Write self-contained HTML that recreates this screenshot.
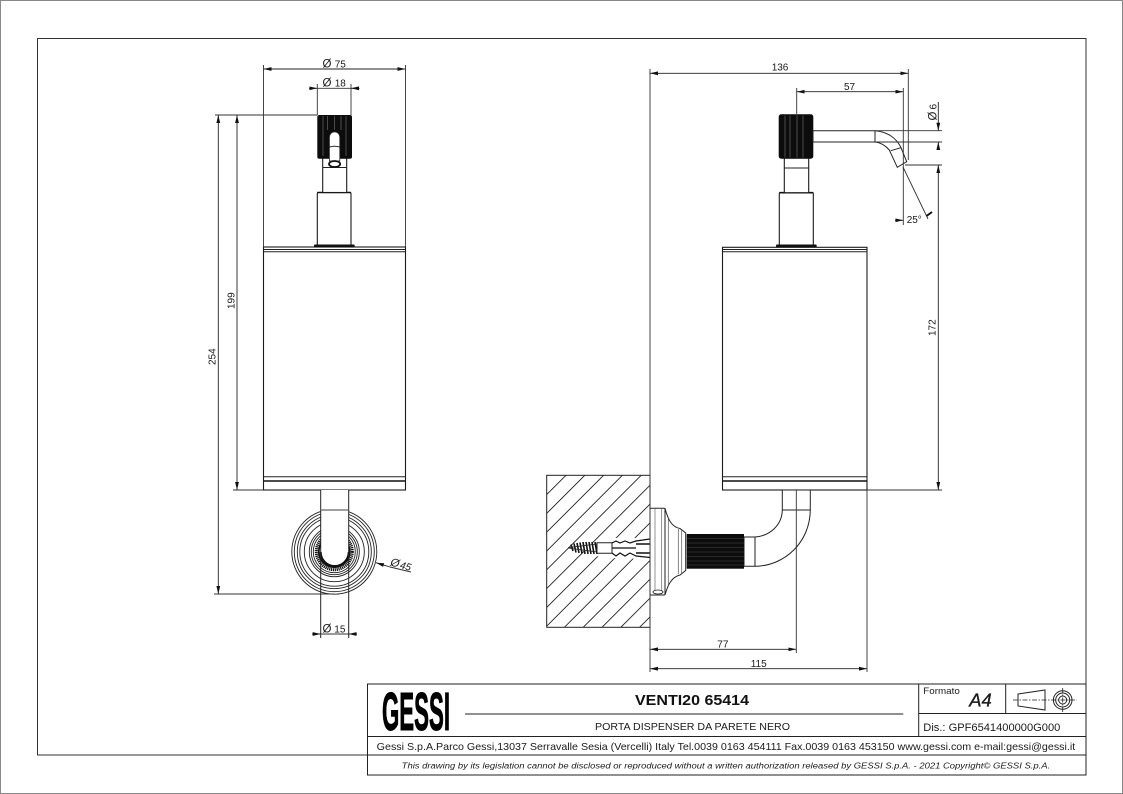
<!DOCTYPE html>
<html><head><meta charset="utf-8"><style>
html,body{margin:0;padding:0;background:#fff;width:1123px;height:794px;overflow:hidden}
svg{display:block}
text{font-family:"Liberation Sans",sans-serif;fill:#1a1a1a}
.d{font-size:10px}
.o{font-size:11.5px}
.l{fill:none;stroke:#222;stroke-width:1}
.e{fill:none;stroke:#333;stroke-width:.9}
.a{fill:none;stroke:#222;stroke-width:.9;marker-start:url(#m);marker-end:url(#m)}
.b{fill:none;stroke:#222;stroke-width:.9;marker-end:url(#m)}
.w{fill:#fff;stroke:#1a1a1a;stroke-width:1.1}
.r{fill:none;stroke:#666;stroke-width:.7}
</style></head><body>
<svg width="1123" height="794" viewBox="0 0 1123 794" xmlns="http://www.w3.org/2000/svg">
<defs>
<marker id="m" markerUnits="userSpaceOnUse" markerWidth="9" markerHeight="5" refX="8" refY="2.5" orient="auto-start-reverse"><path d="M0 .6L8 2.5L0 4.4z" fill="#111"/></marker>
<clipPath id="c"><rect x="546.7" y="475.3" width="103.3" height="152"/></clipPath>
</defs>
<rect x=".5" y=".5" width="1122" height="793" fill="none" stroke="#888" stroke-width="1"/>
<path d="M367.5 755H37.5V38.5H1086V684" fill="none" stroke="#333" stroke-width="1"/>

<!-- LEFT VIEW -->
<rect x="263.5" y="247" width="142" height="243" class="w"/>
<path d="M263.5 251.7H405.5M263.5 249.5H405.5M263.5 476.7H405.5" class="l" stroke-width=".7"/>
<path d="M263.5 481H405.5" fill="none" stroke="#111" stroke-width="1.6"/>
<rect x="317.3" y="192.5" width="33.7" height="53" rx="1" class="w"/>
<path d="M317.3 192.5H351" stroke="#111" stroke-width="1.6"/>
<rect x="322.7" y="158" width="24" height="34.5" class="w"/>
<path d="M322.7 167.5H346.7" class="l"/>
<rect x="314" y="244.5" width="40.7" height="3" rx="1" fill="#111"/>
<rect x="317.3" y="115" width="34.7" height="43.7" rx="2" fill="#0c0c0c"/>
<path d="M323 116V156M327.5 116V130M334.5 116V130M341 116V130M346 116V156" class="r"/>
<path d="M329.4 137a5.2 5.2 0 0 1 10.4 0V161h-10.4z" fill="#fff" stroke="#222" stroke-width=".8"/>
<path d="M329.5 147q5 -1.5 10.2 0" class="l" stroke-width=".7"/>
<ellipse cx="334.6" cy="164" rx="5.6" ry="3" fill="#fff" stroke="#111" stroke-width="1.8"/>

<!-- rings -->
<g fill="none" stroke="#222" stroke-width=".9">
<circle cx="334.3" cy="551.7" r="42.5"/><circle cx="334.3" cy="551.7" r="40"/><circle cx="334.3" cy="551.7" r="37"/><circle cx="334.3" cy="551.7" r="34.5"/><circle cx="334.3" cy="551.7" r="30"/>
<circle cx="334.3" cy="551.7" r="25"/><circle cx="334.3" cy="551.7" r="23"/><circle cx="334.3" cy="551.7" r="21"/>
</g>
<circle cx="334.3" cy="551.7" r="18" fill="none" stroke="#111" stroke-width="3" stroke-dasharray="1.2 .7"/>
<circle cx="334.3" cy="551.7" r="15.5" fill="#fff" stroke="#111" stroke-width="1.8"/>
<path d="M320.7 490V552a13.7 13.7 0 0 0 28 0V490z" fill="#fff" stroke="none"/>
<path d="M320.7 552a13.7 13.7 0 0 0 28 0" fill="none" stroke="#111" stroke-width="2"/>
<path d="M320.7 490V638M348.7 490V638" class="l"/>
<path d="M320.7 510H348.7" fill="none" stroke="#666" stroke-width="1.2"/>

<!-- left dims -->
<path d="M263.5 65V247M405.5 65V247M317.3 84V115M351 84V115" class="e"/>
<path d="M263.5 69H405.5" class="a"/>
<path d="M309 88.3H317.3" class="b"/><path d="M359.5 88.3H351" class="b"/><path d="M317.3 88.3H351" class="e"/>
<path d="M215 115H317.3M233 490H263.5M214 594H334" class="e"/>
<path d="M218.3 115V594" class="a"/><path d="M237 115V490" class="a"/>
<path d="M312 634H320.7" class="b"/><path d="M357 634H348.7" class="b"/><path d="M320.7 634H348.7" class="e"/>
<path d="M411 572L390 567" class="e"/><path d="M390 567L376 562.7" class="b"/>
<text x="322.5" y="67.7" class="o">Ø</text><text x="334.7" y="67.7" class="d">75</text>
<text x="322.5" y="86.7" class="o">Ø</text><text x="334.7" y="86.7" class="d">18</text>
<text x="322.5" y="632.7" class="o">Ø</text><text x="334.3" y="632.7" class="d">15</text>
<g transform="translate(390.5 562.5) rotate(15)"><text x="0" y="3" class="o" font-style="italic">Ø</text><text x="10" y="3" class="d" font-style="italic">45</text></g>
<text transform="translate(215.5 365) rotate(-90)" class="d">254</text>
<text transform="translate(234.5 309) rotate(-90)" class="d">199</text>

<!-- RIGHT VIEW -->
<rect x="722.5" y="247.3" width="144.5" height="242.7" class="w"/>
<path d="M722.5 251.7H867M722.5 249.5H867M722.5 476.7H867" class="l" stroke-width=".7"/>
<path d="M722.5 481H867" fill="none" stroke="#111" stroke-width="1.6"/>
<rect x="779.3" y="192.7" width="34" height="53" rx="1" class="w"/>
<path d="M779.3 192.7H813.3" stroke="#111" stroke-width="1.6"/>
<rect x="784.3" y="158" width="24.4" height="34.7" class="w"/>
<path d="M784.3 168H808.7" class="l"/>
<rect x="776" y="244.5" width="40.7" height="3" rx="1" fill="#111"/>
<rect x="778.7" y="114.3" width="34.6" height="44.4" rx="2.5" fill="#0c0c0c"/>
<path d="M785 115.5V157.5M790 115.5V157.5M797 115.5V157.5M803 115.5V157.5" class="r"/>
<path d="M813 130.7H875C886 131.5 896 137 901 147.7L906.7 161.7L897.3 167.3L889.3 150C885 145 880 142.5 875 142H813z" fill="#fff" stroke="#222" stroke-width="1"/>
<path d="M875 130.7V142M890.7 150.7L901 147.7" class="l"/>

<!-- bracket -->
<path d="M782.3 490V510C782 525 770 536 755 537H744V566.3H755C785 566 810 542 810.3 510V490z" fill="#fff" stroke="#222" stroke-width="1"/>
<path d="M782.3 510H810.3M755 537V566.3" class="l"/>
<rect x="686.7" y="534" width="57.3" height="34.7" fill="#0c0c0c"/>
<path d="M687 538.5H744M687 543H744M687 547.5H744M687 552H744M687 556.5H744M687 561H744M687 565H744" fill="none" stroke="#444" stroke-width=".6"/>
<path d="M665 508.3C668 520 672 527 680 528.5L685.7 533V570.5L680 575C672 577 668 584 665 595z" fill="#fff" stroke="#222" stroke-width="1"/>
<path d="M668.3 517V586M678.3 529V574M681.7 530V573" fill="none" stroke="#555" stroke-width=".7"/>
<rect x="650" y="508.3" width="15" height="86.7" rx="1" fill="#fff" stroke="#222" stroke-width="1"/>
<path d="M655 508.3V595M661.7 508.3V595" fill="none" stroke="#666" stroke-width=".7"/>
<ellipse cx="658" cy="592" rx="5" ry="2" fill="#fff" stroke="#222" stroke-width=".8"/>

<!-- hatch -->
<g clip-path="url(#c)"><path d="M540 482.5l120-120M540 501.3l120-120M540 520.1l120-120M540 538.9l120-120M540 557.7l120-120M540 576.5l120-120M540 595.3l120-120M540 614.1l120-120M540 632.9l120-120M540 651.7l120-120M540 670.5l120-120M540 689.3l120-120M540 708.1l120-120M540 726.9l120-120" fill="none" stroke="#222" stroke-width=".9"/></g>
<rect x="546.7" y="475.3" width="103.3" height="152" fill="none" stroke="#222" stroke-width="1"/>
<!-- screw + anchor -->
<path d="M595 541L612 538L650 538V559L612 558L595 556z" fill="#fff"/>
<path d="M568 547.7L597 542V554z" fill="#fff"/>
<path d="M571 544.5L573 551M574 543.5L576 552.5M577 543L579 553M580 542.5L582 553.5M583 542L585 554M586 542L588 554M589 542L591 554M592 542L594 554M595 542L597 554" fill="none" stroke="#111" stroke-width="1.6"/>
<path d="M568 547.7L597 544M568 548L597 552" fill="none" stroke="#222" stroke-width=".8"/>
<path d="M597 542.7H612V553.3H597z" fill="#fff" stroke="#222" stroke-width="1"/>
<path d="M612 543L616 541L620 543L625 541L630 543L636 541L650 539M612 553L616 556L620 553L625 556L630 553L636 556L650 557.5M612 548H636" fill="none" stroke="#111" stroke-width="1.2"/>
<path d="M636 544H650M636 553H650" fill="none" stroke="#111" stroke-width="1.6"/>

<!-- right dims -->
<path d="M650 69V672M908.3 69V160M796.7 88V114M903.3 88V225M796.3 490V653M867 490V672" class="e"/>
<path d="M650 73.3H908.3" class="a"/>
<path d="M796.7 91.7H903.3" class="a"/>
<path d="M650 649.3H796.3" class="a"/>
<path d="M650 668.7H867" class="a"/>
<path d="M875 130.7H942M875 142H942M905 165H942M867 490H942" class="e"/>
<path d="M938.3 102V130.7" class="b"/><path d="M938.3 150V142" class="b"/>
<path d="M938.3 165V490" class="a"/>
<path d="M895 220.3H903.3" class="b"/>
<path d="M903 167L928 219" class="e"/>
<path d="M926.5 216L932 212" fill="none" stroke="#111" stroke-width="2"/>
<text x="771.7" y="70.7" class="d">136</text>
<text x="844" y="90" class="d">57</text>
<text x="717.3" y="647.5" class="d">77</text>
<text x="750.7" y="667" class="d">115</text>
<text x="906.7" y="223" class="d">25°</text>
<text transform="translate(936.5 120.5) rotate(-90)" class="o">Ø</text>
<text transform="translate(936.5 109.5) rotate(-90)" class="d">6</text>
<text transform="translate(935.5 336) rotate(-90)" class="d">172</text>

<!-- TITLE BLOCK -->
<rect x="367.5" y="684" width="718.5" height="91" fill="#fff" stroke="#222" stroke-width="1"/>
<path d="M367.5 736.5H1086M367.5 755H1086M918.7 684V736.5M918.7 713.5H1086M1005.7 684V713.5M465 714H903.3" fill="none" stroke="#222" stroke-width="1"/>
<text x="382" y="730" font-size="54" font-weight="700" textLength="68" lengthAdjust="spacingAndGlyphs" style="fill:#000;stroke:#000;stroke-width:1">GESSI</text>
<text x="635" y="705" font-size="14.5" font-weight="700" textLength="114" lengthAdjust="spacingAndGlyphs" style="fill:#111">VENTI20 65414</text>
<text x="595" y="730" font-size="10" textLength="195" lengthAdjust="spacingAndGlyphs">PORTA DISPENSER DA PARETE NERO</text>
<text x="923.3" y="694" font-size="9.5" textLength="36.5" lengthAdjust="spacingAndGlyphs">Formato</text>
<text x="969.3" y="706.7" font-size="18" font-style="italic" textLength="22.5" lengthAdjust="spacingAndGlyphs" style="stroke:#1a1a1a;stroke-width:.3">A4</text>
<text x="923.3" y="731" font-size="11" textLength="137" lengthAdjust="spacingAndGlyphs">Dis.: GPF6541400000G000</text>
<text x="376.7" y="750" font-size="10.4" textLength="698.5" lengthAdjust="spacingAndGlyphs">Gessi S.p.A.Parco Gessi,13037 Serravalle Sesia (Vercelli) Italy Tel.0039 0163 454111 Fax.0039 0163 453150 www.gessi.com e-mail:gessi@gessi.it</text>
<text x="401.7" y="768.3" font-size="8.7" font-style="italic" textLength="648.5" lengthAdjust="spacingAndGlyphs">This drawing by its legislation cannot be disclosed or reproduced without a written authorization released by GESSI S.p.A. - 2021 Copyright© GESSI S.p.A.</text>
<g fill="none" stroke="#222" stroke-width="1">
<path d="M1018 694L1045 690V710L1018 706z"/>
<path d="M1013 700H1077M1062.7 688V712" stroke-dasharray="5 1.5 1.5 1.5" stroke-width=".8"/>
<circle cx="1062.7" cy="700" r="9.3"/><circle cx="1062.7" cy="700" r="7"/><circle cx="1062.7" cy="700" r="4"/>
</g>
</svg>
</body></html>
